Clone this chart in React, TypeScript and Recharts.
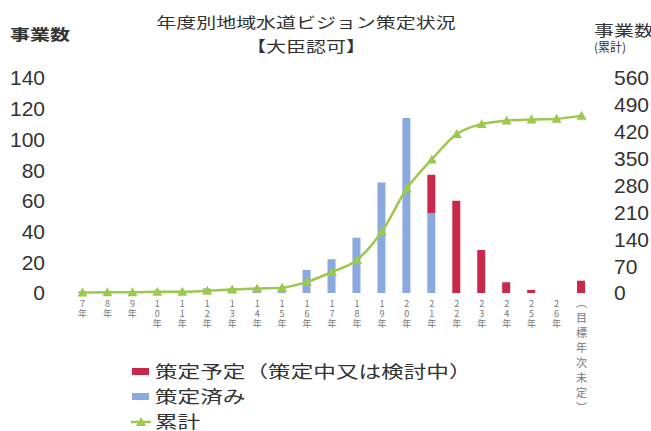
import React from 'react';
import { ComposedChart, Bar, Line, XAxis, YAxis, Legend } from 'recharts';

// 平成7年度〜26年度 + 目標年次未定
const years = [
  '7年', '8年', '9年', '10年', '11年', '12年', '13年', '14年', '15年', '16年', '17年',
  '18年', '19年', '20年', '21年', '22年', '23年', '24年', '25年', '26年', '︵目標年次未定︶',
];
// 策定済み
const done = [1, 1, 0, 1, 0, 3, 3, 3, 2, 15, 22, 36, 72, 114, 52, 0, 0, 0, 0, 0, 0];
// 策定予定（策定中又は検討中）
const planned = [0, 0, 0, 0, 0, 0, 0, 0, 0, 0, 0, 0, 0, 0, 25, 60, 28, 7, 2, 0, 8];
// 累計
const cumulative = [1, 2, 2, 3, 3, 6, 9, 12, 14, 29, 55, 86, 160, 272, 348, 414, 440, 449, 452, 454, 462];

const leftTicks = [0, 20, 40, 60, 80, 100, 120, 140];
const rightTicks = [0, 70, 140, 210, 280, 350, 420, 490, 560];

const RED = '#c8284a';
const BLUE = '#8aa9de';
const GREEN = '#9cc84c';
const JP = '"Noto Sans CJK JP", sans-serif';
const NUM = '"Liberation Sans", Arial, sans-serif';

const data = years.map((year, i) => ({
  year,
  done: done[i],
  planned: planned[i],
  cumulative: cumulative[i],
}));

const legendOrder = ['planned', 'done', 'cumulative'];

// vertical (tategaki) tick label, one char per row
const VerticalTick = ({ x, y, payload }: any) => {
  const label: string = payload.value;
  const chars = Array.from(label);
  const long = chars.length > 4;
  const step = long ? 15 : 10;
  const size = long ? 11 : 9;
  return (
    <text x={x} y={y + 12} textAnchor="middle" fontSize={size} fontFamily={JP} fill="#777">
      {chars.map((c, i) => (
        <tspan key={i} x={x} dy={i === 0 ? 0 : step}>
          {c}
        </tspan>
      ))}
    </text>
  );
};

const Triangle = ({ cx, cy, fill }: any) => {
  if (cx == null || cy == null) return null;
  return <path d={`M${cx},${cy - 5} L${cx + 5},${cy + 4} L${cx - 5},${cy + 4} Z`} fill={fill} />;
};

const Stretch = ({ left, top, size, bold, center, children }: any) => (
  <div
    style={{
      position: 'absolute',
      left,
      top,
      fontSize: size,
      fontWeight: bold ? 700 : 400,
      fontFamily: JP,
      color: '#333',
      lineHeight: 1,
      whiteSpace: 'nowrap',
      transform: center ? 'translateX(-50%) scaleX(1.33)' : 'scaleX(1.33)',
      transformOrigin: center ? 'center' : 'left center',
    }}
  >
    {children}
  </div>
);

const LegendContent = ({ payload }: any) => {
  const items = [...(payload || [])].sort(
    (a: any, b: any) => legendOrder.indexOf(a.dataKey) - legendOrder.indexOf(b.dataKey)
  );
  return (
    <div>
      {items.map((item: any) => (
        <div key={item.dataKey} style={{ display: 'flex', alignItems: 'center', height: 25 }}>
          <svg width={22} height={14} style={{ marginRight: 3 }}>
            {item.dataKey === 'cumulative' ? (
              <>
                <line x1={1} y1={8} x2={21} y2={8} stroke={GREEN} strokeWidth={2.5} />
                <Triangle cx={11} cy={8} fill={GREEN} />
              </>
            ) : (
              <rect x={2} y={4} width={17} height={7} fill={item.color} />
            )}
          </svg>
          <span
            style={{
              fontFamily: JP,
              fontSize: 17,
              color: '#333',
              display: 'inline-block',
              transform: 'scaleX(1.33)',
              transformOrigin: 'left center',
              whiteSpace: 'nowrap',
            }}
          >
            {item.value}
          </span>
        </div>
      ))}
    </div>
  );
};

export default function App() {
  return (
    <div style={{ position: 'absolute', left: 0, top: 0, width: 651, height: 431, background: '#fff' }}>
      <Stretch left={10} top={26} size={15} bold>事業数</Stretch>
      <Stretch left={306} top={14} size={15} center>年度別地域水道ビジョン策定状況</Stretch>
      <Stretch left={306} top={38} size={15} center>【大臣認可】</Stretch>
      <Stretch left={594} top={22} size={15}>事業数</Stretch>
      <div
        style={{
          position: 'absolute',
          left: 594,
          top: 41,
          fontSize: 12,
          fontFamily: JP,
          color: '#333',
          lineHeight: 1,
          whiteSpace: 'nowrap',
        }}
      >
        (累計)
      </div>
      <ComposedChart
        width={651}
        height={431}
        data={data}
        margin={{ top: 78, right: 0, bottom: 0, left: 0 }}
        style={{ overflow: 'visible' }}
      >
        <XAxis
          dataKey="year"
          xAxisId={0}
          interval={0}
          height={138}
          axisLine={false}
          tickLine={false}
          tickSize={0}
          tick={<VerticalTick />}
        />
        <YAxis
          yAxisId="left"
          width={70}
          domain={[0, 140]}
          ticks={leftTicks}
          interval={0}
          axisLine={false}
          tickLine={false}
          tickSize={0}
          tickMargin={25}
          tick={{ fontSize: 21, fontFamily: NUM, fill: '#333' }}
        />
        <YAxis
          yAxisId="right"
          orientation="right"
          width={57}
          domain={[0, 560]}
          ticks={rightTicks}
          interval={0}
          axisLine={false}
          tickLine={false}
          tickSize={0}
          tickMargin={20}
          tick={{ fontSize: 21, fontFamily: NUM, fill: '#333', textAnchor: 'start' }}
        />
        <Bar
          yAxisId="left"
          dataKey="done"
          name="策定済み"
          stackId="a"
          fill={BLUE}
          barSize={8}
          isAnimationActive={false}
        />
        <Bar
          yAxisId="left"
          dataKey="planned"
          name="策定予定（策定中又は検討中）"
          stackId="a"
          fill={RED}
          barSize={8}
          isAnimationActive={false}
        />
        <Line
          yAxisId="right"
          dataKey="cumulative"
          name="累計"
          type="monotone"
          stroke={GREEN}
          strokeWidth={2.5}
          dot={<Triangle fill={GREEN} />}
          activeDot={false}
          isAnimationActive={false}
        />
        <Legend
          layout="horizontal"
          verticalAlign="middle"
          align="center"
          content={<LegendContent />}
          wrapperStyle={{ position: 'absolute', left: 130, top: 358, width: 'auto', height: 'auto', overflow: 'visible' }}
        />
      </ComposedChart>
    </div>
  );
}
